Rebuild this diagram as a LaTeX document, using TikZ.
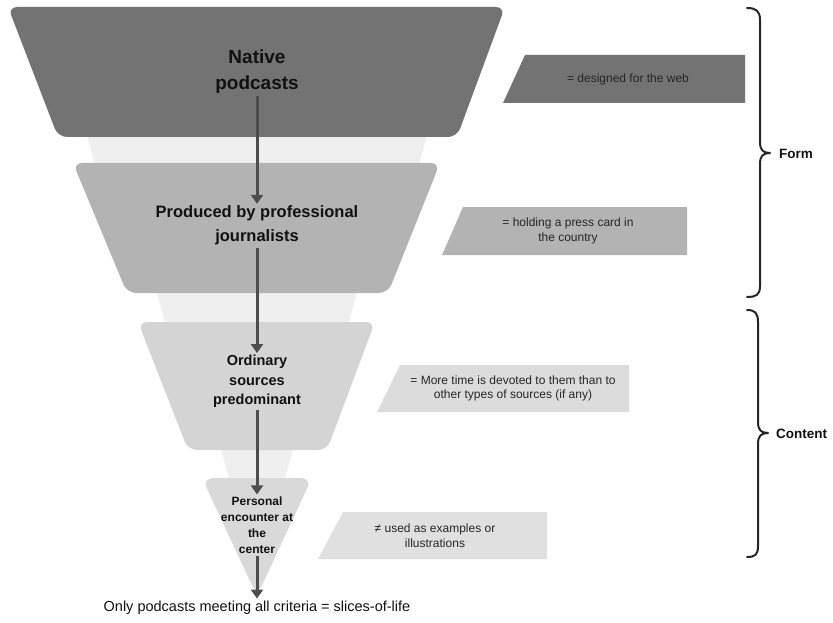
\documentclass[tikz,border=0pt]{standalone}
\usepackage{fontspec}
\setmainfont{Liberation Sans}
\usetikzlibrary{arrows.meta}
\definecolor{stageA}{HTML}{737373}
\definecolor{stageB}{HTML}{B3B3B3}
\definecolor{stageC}{HTML}{D4D4D4}
\definecolor{stageD}{HTML}{D9D9D9}
\definecolor{noteC}{HTML}{DCDCDC}
\definecolor{noteD}{HTML}{E0E0E0}
\definecolor{funnelbg}{HTML}{EFEFEF}
\definecolor{flowline}{HTML}{4D4D4D}
\definecolor{labeltext}{HTML}{111111}
\definecolor{notetext}{HTML}{262626}
\begin{document}
\begin{tikzpicture}[x=1pt,y=-1pt,
  stagelabel/.style={align=center,inner sep=2pt,text=labeltext},
  notelabel/.style={align=center,inner sep=0pt,text=notetext,font=\fontsize{12}{14.5}\selectfont},
  flow/.style={draw=flowline,line width=3pt,-{Triangle[width=12pt,length=9pt]}},
  bracket/.style={draw=black!85,line width=2pt,line cap=round,line join=round},
  grouplabel/.style={anchor=west,inner sep=0pt,text=labeltext,font=\bfseries\fontsize{13.5}{16}\selectfont}]
\useasboundingbox (0,0) rectangle (833,623);

% pale funnel visible between the stages
\fill[funnelbg] (85,128) -- (429,128) -- (417.6,170) -- (96.4,170) -- cycle;
\fill[funnelbg] (155.6,288) -- (358.4,288) -- (347.6,327) -- (166.4,327) -- cycle;
\fill[funnelbg] (219.6,445) -- (294.4,445) -- (283.6,483) -- (230.4,483) -- cycle;

% funnel stages
\fill[stageA,rounded corners=9pt] (8,7) -- (505,7) -- (457,137) -- (58,137) -- cycle;
\fill[stageB,rounded corners=9pt] (73,163) -- (440,163) -- (388,293) -- (127,293) -- cycle;
\fill[stageC,rounded corners=9pt] (138,322) -- (375,322) -- (327,450) -- (188,450) -- cycle;
\fill[stageD,rounded corners=11pt] (202,478) -- (312,478) -- (257,596) -- cycle;

% side notes
\fill[stageA] (525,55) -- (745,55) -- (745,103) -- (503,103) -- cycle;
\fill[stageB] (463,207) -- (687,207) -- (687,255) -- (442,255) -- cycle;
\fill[noteC] (400,365) -- (629,365) -- (629,412) -- (377,412) -- cycle;
\fill[noteD] (343,512) -- (547,512) -- (547,559) -- (318,559) -- cycle;

% stage labels
\node[stagelabel,font=\bfseries\fontsize{19}{26}\selectfont] (native) at (257,72) {Native\\podcasts};
\node[stagelabel,font=\bfseries\fontsize{16.5}{24}\selectfont] (produced) at (257,225.7) {Produced by professional\\journalists};
\node[stagelabel,font=\bfseries\fontsize{14.5}{19.5}\selectfont] (ordinary) at (257,381.5) {Ordinary\\sources\\predominant};
\node[stagelabel,font=\bfseries\fontsize{12}{16}\selectfont] (personal) at (257,525) {Personal\\encounter at\\the\\center};
\node[stagelabel,font=\fontsize{14.5}{18}\selectfont] (result) at (257,607.5) {Only podcasts meeting all criteria = slices-of-life};

% note labels
\node[notelabel] (webnote) at (628,79) {= designed for the web};
\node[notelabel] (cardnote) at (568,231) {= holding a press card in\\the country};
\node[notelabel] (timenote) at (513,388.5) {= More time is devoted to them than to\\other types of sources (if any)};
\node[notelabel] (usenote) at (435,535.5) {≠ used as examples or\\illustrations};

% flow arrows
\draw[flow] (native.south) -- (produced.north);
\draw[flow] (produced.south) -- (ordinary.north);
\draw[flow] (ordinary.south) -- (personal.north);
\draw[flow] (personal.south) -- (result.north);

% group braces
\draw[bracket] (747,8) .. controls (756,8) and (760,11) .. (760,20) -- (760,142)
  .. controls (760,150) and (763,153) .. (770,153)
  .. controls (763,153) and (760,156) .. (760,164) -- (760,286)
  .. controls (760,295) and (756,297) .. (747,297);
\draw[bracket] (747,310) .. controls (755,310) and (758,313) .. (758,322) -- (758,422)
  .. controls (758,430) and (761,433) .. (768,433)
  .. controls (761,433) and (758,436) .. (758,444) -- (758,546)
  .. controls (758,555) and (755,557) .. (747,557);
\node[grouplabel] (form) at (779,154) {Form};
\node[grouplabel] (content) at (776,434) {Content};
\end{tikzpicture}
\end{document}
